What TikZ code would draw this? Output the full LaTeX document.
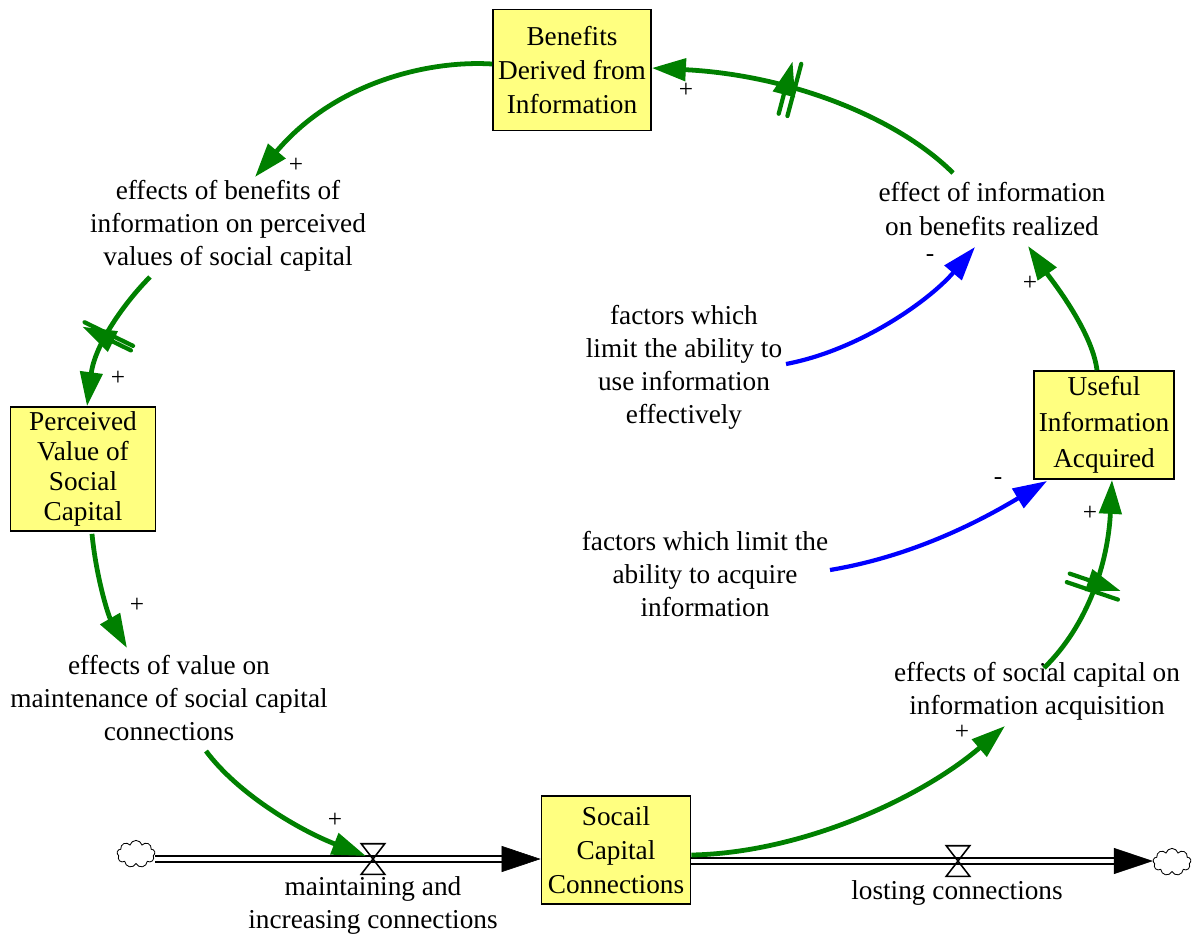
\documentclass[tikz,border=0pt]{standalone}
\usepackage{fontspec}
\setmainfont{Liberation Serif}
\usetikzlibrary{arrows.meta,shapes.symbols,decorations.markings,calc}
\definecolor{linkgreen}{RGB}{0,128,0}
\definecolor{stockfill}{RGB}{255,255,128}
\begin{document}
\begin{tikzpicture}[x=0.025cm,y=-0.025cm,
  stock/.style={draw=black, line width=1.2pt, fill=stockfill, align=center, inner sep=0pt},
  aux/.style={align=center, inner sep=0pt, font=\fontsize{19.4}{23.5}\selectfont},
  pol/.style={inner sep=0pt, font=\fontsize{18}{20}\selectfont},
  link/.style={draw=linkgreen, line width=3.4pt, -{Triangle[length=0.85cm,width=0.55cm]}},
  blink/.style={draw=blue, line width=3pt, -{Triangle[length=0.85cm,width=0.55cm]}},
  delaymark/.style 2 args={postaction={decorate, decoration={markings,
      mark=at position #1 with {\draw[linkgreen, line width=3pt, line cap=round]
        (-#2,-27) -- (-#2,27) (#2,-27) -- (#2,27);}}}},
  pipe/.style={draw=black, line width=1.3pt, double=white, double distance=3.5pt},
  pipehead/.style={draw=black, line width=0.4pt, -{Triangle[length=0.975cm,width=0.65cm]}},
  valve/.style={inner sep=0pt, minimum width=0.575cm, minimum height=0.75cm},
  source/.style={cloud, cloud puffs=9, cloud ignores aspect, draw=black, line width=0.6pt,
      fill=white, minimum width=0.95cm, minimum height=0.68cm, inner sep=0pt}
]
\useasboundingbox (0,0) rectangle (1193,943);

% stocks
\node[stock, minimum width=3.95cm, minimum height=3.025cm,
      font=\fontsize{19.4}{24.5}\selectfont] (ben) at (572,70)
      {Benefits\\Derived from\\Information};
\node[stock, minimum width=3.625cm, minimum height=3.1cm,
      font=\fontsize{19.4}{21.5}\selectfont] (pv) at (83,469)
      {Perceived\\Value of\\Social\\Capital};
\node[stock, minimum width=3.5cm, minimum height=2.7cm,
      font=\fontsize{19.4}{25.5}\selectfont] (ui) at (1104,425)
      {Useful\\Information\\Acquired};
\node[stock, minimum width=3.725cm, minimum height=2.7cm,
      font=\fontsize{19.4}{24}\selectfont] (sc) at (616,850)
      {Socail\\Capital\\Connections};

% auxiliaries
\node[aux] (ebi) at (228,226) {effects of benefits of\\information on perceived\\values of social capital};
\node[aux] (eib) at (992,209) {effect of information\\on benefits realized};
\node[aux] (flu) at (684,367) {factors which\\limit the ability to\\use information\\effectively};
\node[aux] (fla) at (705,574) {factors which limit the\\ability to acquire\\information};
\node[aux] (evm) at (169,698) {effects of value on\\maintenance of social capital\\connections};
\node[aux] (esc) at (1037,691) {effects of social capital on\\information acquisition};

% flows
\node[source] (cL) at (136,854) {};
\node[source] (cR) at (1172,862) {};
\node[valve] (vL) at (373,859) {};
\node[valve] (vR) at (958,861) {};

\draw[pipe] (cL.east |- vL) -- ($(vL -| sc.west)+(-37,0)$);
\draw[pipehead] ($(vL -| sc.west)+(-39,0)$) -- (vL -| sc.west);
\draw[pipe] (sc.east |- vR) -- ($(vR -| cR.west)+(-37,0)$);
\draw[pipehead] ($(vR -| cR.west)+(-39,0)$) -- (vR -| cR.west);

\foreach \v in {vL,vR}
  \draw[black, line width=1.1pt, line join=miter]
    (\v.north west) -- (\v.north east) -- (\v.south west) -- (\v.south east) -- cycle;

\node[aux, anchor=north] (fin) at (373,876) {maintaining and\\increasing connections};
\node[aux, anchor=north] (fout) at (957,880) {losting connections};

% causal links
\draw[link] ([shift={(0,-6)}]ben.west) .. controls +(-63,-4) and +(80,-95) .. ([shift={(27,-49)}]ebi.center);
\draw[link, delaymark={0.5}{2.5}] ([shift={(-78,51)}]ebi.center) .. controls +(-25,25) and +(8,-62) .. ([shift={(4,0)}]pv.north);
\draw[link] ([shift={(9,2)}]pv.south) .. controls +(4,42) and +(-19,-33) .. ([shift={(-42,-50)}]evm.center);
\draw[link] ([shift={(37,53)}]evm.center) .. controls +(32,43) and +(-67,-26) .. ([shift={(-7,-3)}]vL.center);
\draw[link] ([shift={(0,5)}]sc.east) .. controls +(109,-2) and +(-85,73) .. ([shift={(-32,35)}]esc.center);
\draw[link, delaymark={0.47}{4.5}] ([shift={(7,-23)}]esc.center) .. controls +(44,-43) and +(-4,83) .. ([shift={(8,0)}]ui.south);
\draw[link] ([shift={(-7,0)}]ui.north) .. controls +(-5,-40) and +(22,32) .. ([shift={(36,37)}]eib.center);
\draw[link, delaymark={0.57}{4.5}] ([shift={(-39,-36)}]eib.center) .. controls +(-55,-55) and +(139,7) .. ([shift={(0,-2)}]ben.east);
\draw[blink] ([shift={(102,-3)}]flu.center) .. controls +(74,-14) and +(-45,53) .. ([shift={(-17,38)}]eib.center);
\draw[blink] ([shift={(125,-4)}]fla.center) .. controls +(90,-15) and +(-57,34) .. ([shift={(-57,56)}]ui.center);

% polarities
\node[pol] (p1) at (296,165) {+};
\node[pol] (p2) at (118,378) {+};
\node[pol] (p3) at (137,605) {+};
\node[pol] (p4) at (335,820) {+};
\node[pol] (p5) at (962,732) {+};
\node[pol] (p6) at (1090,513) {+};
\node[pol] (p7) at (1030,283) {+};
\node[pol] (p8) at (686,90) {+};
\node[pol] (m1) at (930,258) {-};
\node[pol] (m2) at (998,481) {-};
\end{tikzpicture}
\end{document}
